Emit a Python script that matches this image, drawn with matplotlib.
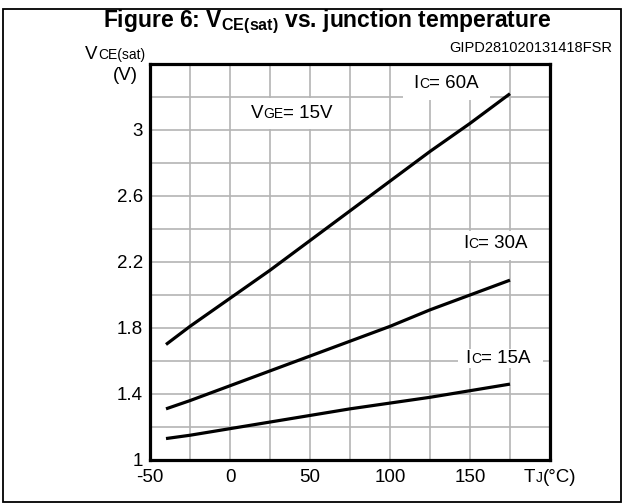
import matplotlib
matplotlib.use("Agg")
import matplotlib.pyplot as plt
from matplotlib.patches import Rectangle
from matplotlib.offsetbox import TextArea, HPacker, AnnotationBbox

plt.rcParams["font.family"] = ["Liberation Sans", "DejaVu Sans"]
plt.rcParams["mathtext.fontset"] = "custom"
plt.rcParams["mathtext.rm"] = "Liberation Sans"
plt.rcParams["mathtext.bf"] = "Liberation Sans:bold"

# ── data ───────────────────────────────────────────────────────────────────
tj = [-40, -25, 0, 25, 50, 75, 100, 125, 150, 175]
vce_60a = [1.70, 1.81, 1.98, 2.15, 2.33, 2.51, 2.69, 2.87, 3.04, 3.22]
vce_30a = [1.31, 1.36, 1.45, 1.54, 1.63, 1.72, 1.81, 1.91, 2.00, 2.09]
vce_15a = [1.13, 1.15, 1.19, 1.23, 1.27, 1.31, 1.345, 1.38, 1.42, 1.46]

x_grid = [-50, -25, 0, 25, 50, 75, 100, 125, 150, 175, 200]
x_labels = ["-50", "", "0", "", "50", "", "100", "", "150", "", ""]
y_grid = [1.0, 1.2, 1.4, 1.6, 1.8, 2.0, 2.2, 2.4, 2.6, 2.8, 3.0, 3.2, 3.4]
y_labels = ["1", "", "1.4", "", "1.8", "", "2.2", "", "2.6", "", "3", "", ""]

BIG, SMALL = 13.5, 10

fig = plt.figure(figsize=(6.25, 5.04), dpi=100)
ax = fig.add_axes([150/625, 44/504, 400/625, 396/504])

for v in (vce_60a, vce_30a, vce_15a):
    ax.plot(tj, v, color="black", lw=2.3, solid_capstyle="butt",
            solid_joinstyle="round", zorder=4)

ax.set_xlim(-50, 200)
ax.set_ylim(1.0, 3.4)
ax.set_xticks(x_grid)
ax.set_xticklabels(x_labels, fontsize=BIG)
ax.set_yticks(y_grid)
ax.set_yticklabels(y_labels, fontsize=BIG)
ax.tick_params(length=0, pad=5)
ax.tick_params(axis="x", pad=6.5)
ax.grid(True, color="#b4b4b4", lw=1.2, zorder=1)
ax.set_axisbelow(True)
for s in ax.spines.values():
    s.set_linewidth(2.3)
    s.set_zorder(6)


def mixed(parts):
    kids = [TextArea(t, textprops=dict(fontsize=fs, color="black")) for t, fs in parts]
    return HPacker(children=kids, align="baseline", pad=0, sep=0)


def label(parts, xy, box=None):
    if box is not None:
        x0, x1, y0, y1 = box
        ax.add_patch(Rectangle((x0, y0), x1 - x0, y1 - y0, facecolor="white",
                               edgecolor="none", zorder=2))
    ab = AnnotationBbox(mixed(parts), xy, xycoords="data", frameon=False,
                        box_alignment=(0.5, 0.5), pad=0, zorder=5)
    ax.add_artist(ab)


label([("V", BIG), ("GE", SMALL), ("= 15V", BIG)], (38.5, 3.10), box=(5, 73, 3.005, 3.195))
label([("I", BIG), ("C", SMALL), ("= 60A", BIG)], (135, 3.28), box=(108, 162.5, 3.18, 3.39))
label([("I", BIG), ("C", SMALL), ("= 30A", BIG)], (166, 2.31), box=(134, 197, 2.21, 2.39))
label([("I", BIG), ("C", SMALL), ("= 15A", BIG)], (167.5, 1.615), box=(142.5, 195.5, 1.56, 1.67))

# x-axis unit label sits where the 200 tick label would be
ab = AnnotationBbox(mixed([("T", BIG), ("J", SMALL), ("(°C)", BIG)]), (200, 1.0),
                    xycoords="data", xybox=(0, -12.5), boxcoords="offset points",
                    frameon=False, box_alignment=(0.5, 0.5), pad=0, annotation_clip=False)
ax.add_artist(ab)

# y-axis label at the top-left corner
ab = AnnotationBbox(mixed([("V", BIG), ("CE(sat)", SMALL)]), (145/625, 1 - 63/504),
                    xycoords="figure fraction", frameon=False,
                    box_alignment=(1.0, 0.0), pad=0)
fig.add_artist(ab)
fig.text(125/625, 1 - 75/504, "(V)", fontsize=BIG, ha="center", va="center")

fig.text(327/625, 1 - 22/504,
         r"Figure 6: V$\mathbf{_{CE(sat)}}$ vs. junction temperature",
         fontsize=16.5, fontweight="bold", ha="center", va="center")
fig.text(612/625, 1 - 48/504, "GIPD281020131418FSR", fontsize=10.5,
         ha="right", va="center")

fig.patches.append(Rectangle((3/625, 2/504), 618/625, 493/504, transform=fig.transFigure,
                             fill=False, edgecolor="black", lw=1.3))

fig.savefig("out.png", dpi=100)
